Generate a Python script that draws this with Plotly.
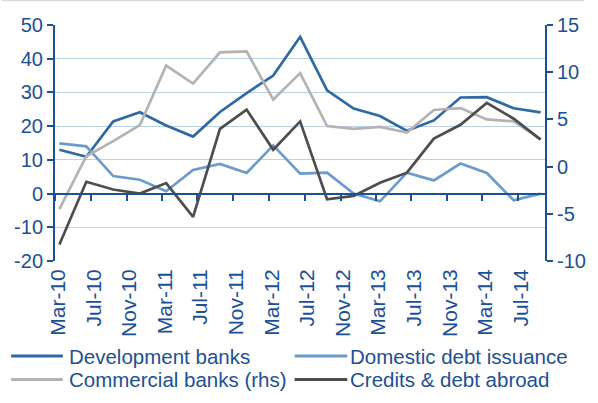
import pandas as pd
import plotly.graph_objects as go

# Quarterly observations (end-of-quarter month)
quarters = ["Mar-10", "Jun-10", "Sep-10", "Dec-10", "Mar-11", "Jun-11", "Sep-11", "Dec-11",
            "Mar-12", "Jun-12", "Sep-12", "Dec-12", "Mar-13", "Jun-13", "Sep-13", "Dec-13",
            "Mar-14", "Jun-14", "Sep-14"]

development_banks = [13.0, 10.9, 21.4, 24.1, 20.2, 16.9, 24.2, 29.8, 35.0, 46.5,
                     30.6, 25.2, 23.0, 18.6, 21.7, 28.5, 28.6, 25.3, 24.1]
domestic_debt_issuance = [14.9, 14.0, 5.2, 4.1, 0.7, 7.0, 8.8, 6.1, 14.3, 5.9,
                          6.2, 0.0, -2.3, 6.2, 3.9, 8.9, 6.1, -2.0, 0.0]
commercial_banks_rhs = [-4.5, 1.1, 2.7, 4.4, 10.7, 8.8, 12.1, 12.2, 7.1, 9.9,
                        4.3, 4.0, 4.2, 3.6, 6.0, 6.2, 5.0, 4.8, 2.9]
credits_debt_abroad = [-15.1, 3.5, 1.2, 0.0, 3.1, -6.9, 19.2, 24.9, 13.0, 21.4,
                       -1.7, -0.7, 3.2, 6.2, 16.3, 20.4, 26.9, 22.2, 16.0]

x_tick_labels = ["Mar-10", "Jul-10", "Nov-10", "Mar-11", "Jul-11", "Nov-11", "Mar-12",
                 "Jul-12", "Nov-12", "Mar-13", "Jul-13", "Nov-13", "Mar-14", "Jul-14"]
left_ticks = [-20, -10, 0, 10, 20, 30, 40, 50]
right_ticks = [-10, -5, 0, 5, 10, 15]

series_names = ["Development banks", "Domestic debt issuance",
                "Commercial banks (rhs)", "Credits & debt abroad"]

# Styling
W, H = 598, 403
ML, MR, MT, MB = 55, 40, 25, 142
FONT = "Liberation Sans, Arial, sans-serif"
TEXT = "#1c5097"
AXIS = "#1c5097"
GRID = "#bcd1ea"
C_DEV = "#2e69a5"
C_DOM = "#6b9bcc"
C_COM = "#b3b3b3"
C_CRE = "#4d4d4d"
LW = 2.7

# Points sit in the middle of their month on a monthly date scale
month_start = pd.to_datetime(quarters, format="%b-%y")
x = month_start + pd.Timedelta(days=15)
x_range = [month_start[0], month_start[-1] + pd.DateOffset(months=1)]
tick_dates = pd.to_datetime(x_tick_labels, format="%b-%y")

fig = go.Figure()
fig.add_trace(go.Scatter(x=x, y=development_banks, mode="lines", name=series_names[0],
                         line=dict(color=C_DEV, width=LW), showlegend=False))
fig.add_trace(go.Scatter(x=x, y=domestic_debt_issuance, mode="lines", name=series_names[1],
                         line=dict(color=C_DOM, width=LW), showlegend=False))
fig.add_trace(go.Scatter(x=x, y=commercial_banks_rhs, mode="lines", name=series_names[2],
                         line=dict(color=C_COM, width=LW), yaxis="y2", showlegend=False))
fig.add_trace(go.Scatter(x=x, y=credits_debt_abroad, mode="lines", name=series_names[3],
                         line=dict(color=C_CRE, width=LW), xaxis="x2", showlegend=False))

# Position of the left-axis zero line as a fraction of the plot height
zero_pos = (0 - left_ticks[0]) / (left_ticks[-1] - left_ticks[0])

fig.update_layout(
    width=W, height=H, autosize=False,
    margin=dict(l=ML, r=MR, t=MT, b=MB, pad=0),
    paper_bgcolor="white", plot_bgcolor="white",
    font=dict(family=FONT, color=TEXT),
    xaxis=dict(
        type="date", range=x_range,
        tickvals=tick_dates, ticktext=x_tick_labels, tickangle=-90,
        tickfont=dict(size=21, color=TEXT, family=FONT),
        ticklabelshift=3, ticklabelstandoff=3,
        ticks="", showline=False, showgrid=False, zeroline=False,
    ),
    xaxis2=dict(
        type="date", range=x_range, matches="x", overlaying="x",
        anchor="free", position=zero_pos,
        tickvals=tick_dates, showticklabels=False,
        ticks="outside", ticklen=6, tickwidth=2, tickcolor=AXIS,
        showline=True, linecolor=AXIS, linewidth=2,
        showgrid=False, zeroline=False,
    ),
    yaxis=dict(
        range=[left_ticks[0], left_ticks[-1]],
        tickvals=left_ticks, ticktext=[str(v) for v in left_ticks],
        tickfont=dict(size=20, color=TEXT, family=FONT),
        ticks="outside", ticklen=6, tickwidth=2, tickcolor=AXIS,
        showline=True, linecolor=AXIS, linewidth=2,
        showgrid=True, gridcolor=GRID, gridwidth=1, zeroline=False,
    ),
    yaxis2=dict(
        range=[right_ticks[0], right_ticks[-1]], overlaying="y", side="right",
        tickvals=right_ticks, ticktext=[str(v) for v in right_ticks],
        tickfont=dict(size=20, color=TEXT, family=FONT),
        ticks="outside", ticklen=6, tickwidth=2, tickcolor=AXIS,
        showline=True, linecolor=AXIS, linewidth=2,
        showgrid=False, zeroline=False,
    ),
)

# Hand-built two-column legend below the axis labels
pw, ph = W - ML - MR, H - MT - MB


def px_to_paper(px, py):
    return (px - ML) / pw, (H - MB - py) / ph


legend_rows = [(356, [(series_names[0], C_DEV), (series_names[1], C_DOM)]),
               (379.5, [(series_names[2], C_COM), (series_names[3], C_CRE)])]
legend_cols = [(10, 63, 68), (301, 355, 357)]
for row_y, items in legend_rows:
    for (name, color), (x0, x1, xt) in zip(items, legend_cols):
        ax0, ay = px_to_paper(x0, row_y)
        ax1, _ = px_to_paper(x1, row_y)
        fig.add_shape(type="line", xref="paper", yref="paper",
                      x0=ax0, x1=ax1, y0=ay, y1=ay,
                      line=dict(color=color, width=3))
        tx, _ = px_to_paper(xt, row_y)
        fig.add_annotation(xref="paper", yref="paper", x=tx, y=ay,
                           xanchor="left", yanchor="middle", showarrow=False,
                           text=name, font=dict(size=20.5, color=TEXT, family=FONT),
                           borderpad=0)

# Thin frame line along the top edge
bx0, by = px_to_paper(0, 0.5)
bx1, _ = px_to_paper(W, 0.5)
fig.add_shape(type="line", xref="paper", yref="paper", x0=bx0, x1=bx1, y0=by, y1=by,
              line=dict(color="#dcdcdc", width=1.5))

fig.write_html("out.html")
